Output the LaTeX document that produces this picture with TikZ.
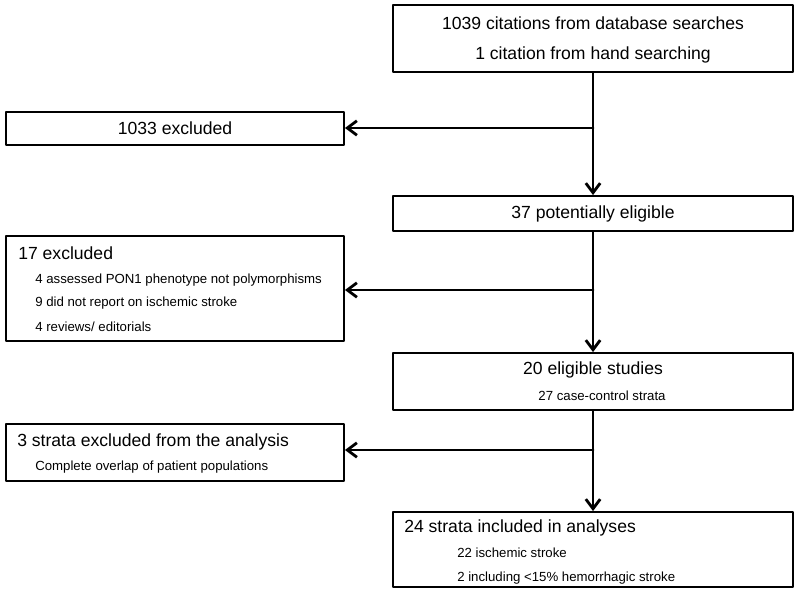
\documentclass[tikz,border=0pt]{standalone}
\usepackage{fontspec}
\setmainfont{Liberation Sans}
\usetikzlibrary{arrows.meta, positioning}

\begin{document}
\begin{tikzpicture}[x=0.025cm, y=-0.025cm, line cap=round, line join=round,
  widebox/.style={draw, line width=1.3pt, minimum width=10cm, inner sep=0pt},
  sidebox/.style={draw, line width=1.3pt, minimum width=8.45cm, inner sep=0pt},
  bigtxt/.style={font=\fontsize{12.5}{15}\selectfont, inner sep=0pt},
  smalltxt/.style={font=\fontsize{9.4}{11}\selectfont, inner sep=0pt},
  flow/.style={line width=2pt, -{Straight Barb[length=2.4mm, width=3.6mm]}}]
  \useasboundingbox (0,0) rectangle (800,599);

  % -- Main column --
  \node[widebox, minimum height=1.675cm] (search) at (593,38.5) {};
  \node[bigtxt] (searchA) at (593,23) {1039 citations from database searches};
  \node[bigtxt] (searchB) at (593,55) {1 citation from hand searching};

  \node[widebox, minimum height=0.875cm, bigtxt] (pot) at (593,213.5) {37 potentially eligible};

  \node[widebox, minimum height=1.425cm] (elig) at (593,381.5) {};
  \node[bigtxt] (eligA) at (593,370) {20 eligible studies};
  \node[smalltxt] (eligB) at (602,396) {27 case-control strata};

  \node[widebox, minimum height=1.875cm] (incl) at (593,549.5) {};
  \node[bigtxt, anchor=west] (inclA) at (404,528) {24 strata included in analyses};
  \node[smalltxt, anchor=west] (inclB) at (457,553) {22 ischemic stroke};
  \node[smalltxt, anchor=west] (inclC) at (457,578) {2 including <15\% hemorrhagic stroke};

  % -- Exclusions --
  \node[sidebox, minimum height=0.825cm, bigtxt] (exA) at (175,128.5) {1033 excluded};

  \node[sidebox, minimum height=2.625cm] (exB) at (175,288.5) {};
  \node[bigtxt, anchor=west] (exBa) at (18,253) {17 excluded};
  \node[smalltxt, anchor=west] (exBb) at (35,280) {4 assessed PON1 phenotype not polymorphisms};
  \node[smalltxt, anchor=west] (exBc) at (35,303) {9 did not report on ischemic stroke};
  \node[smalltxt, anchor=west] (exBd) at (35,327) {4 reviews/ editorials};

  \node[sidebox, minimum height=1.425cm] (exC) at (175,452.5) {};
  \node[bigtxt, anchor=west] (exCa) at (17,442) {3 strata excluded from the analysis};
  \node[smalltxt, anchor=west] (exCb) at (35,467) {Complete overlap of patient populations};

  % -- Arrows --
  \coordinate (j1) at (593,128);
  \coordinate (j2) at (593,290);
  \coordinate (j3) at (593,450);
  \draw[flow] (search.south) -- (pot.north);
  \draw[flow] (j1) -- (j1 -| exA.east);
  \draw[flow] (pot.south) -- (elig.north);
  \draw[flow] (j2) -- (j2 -| exB.east);
  \draw[flow] (elig.south) -- (incl.north);
  \draw[flow] (j3) -- (j3 -| exC.east);
\end{tikzpicture}
\end{document}
